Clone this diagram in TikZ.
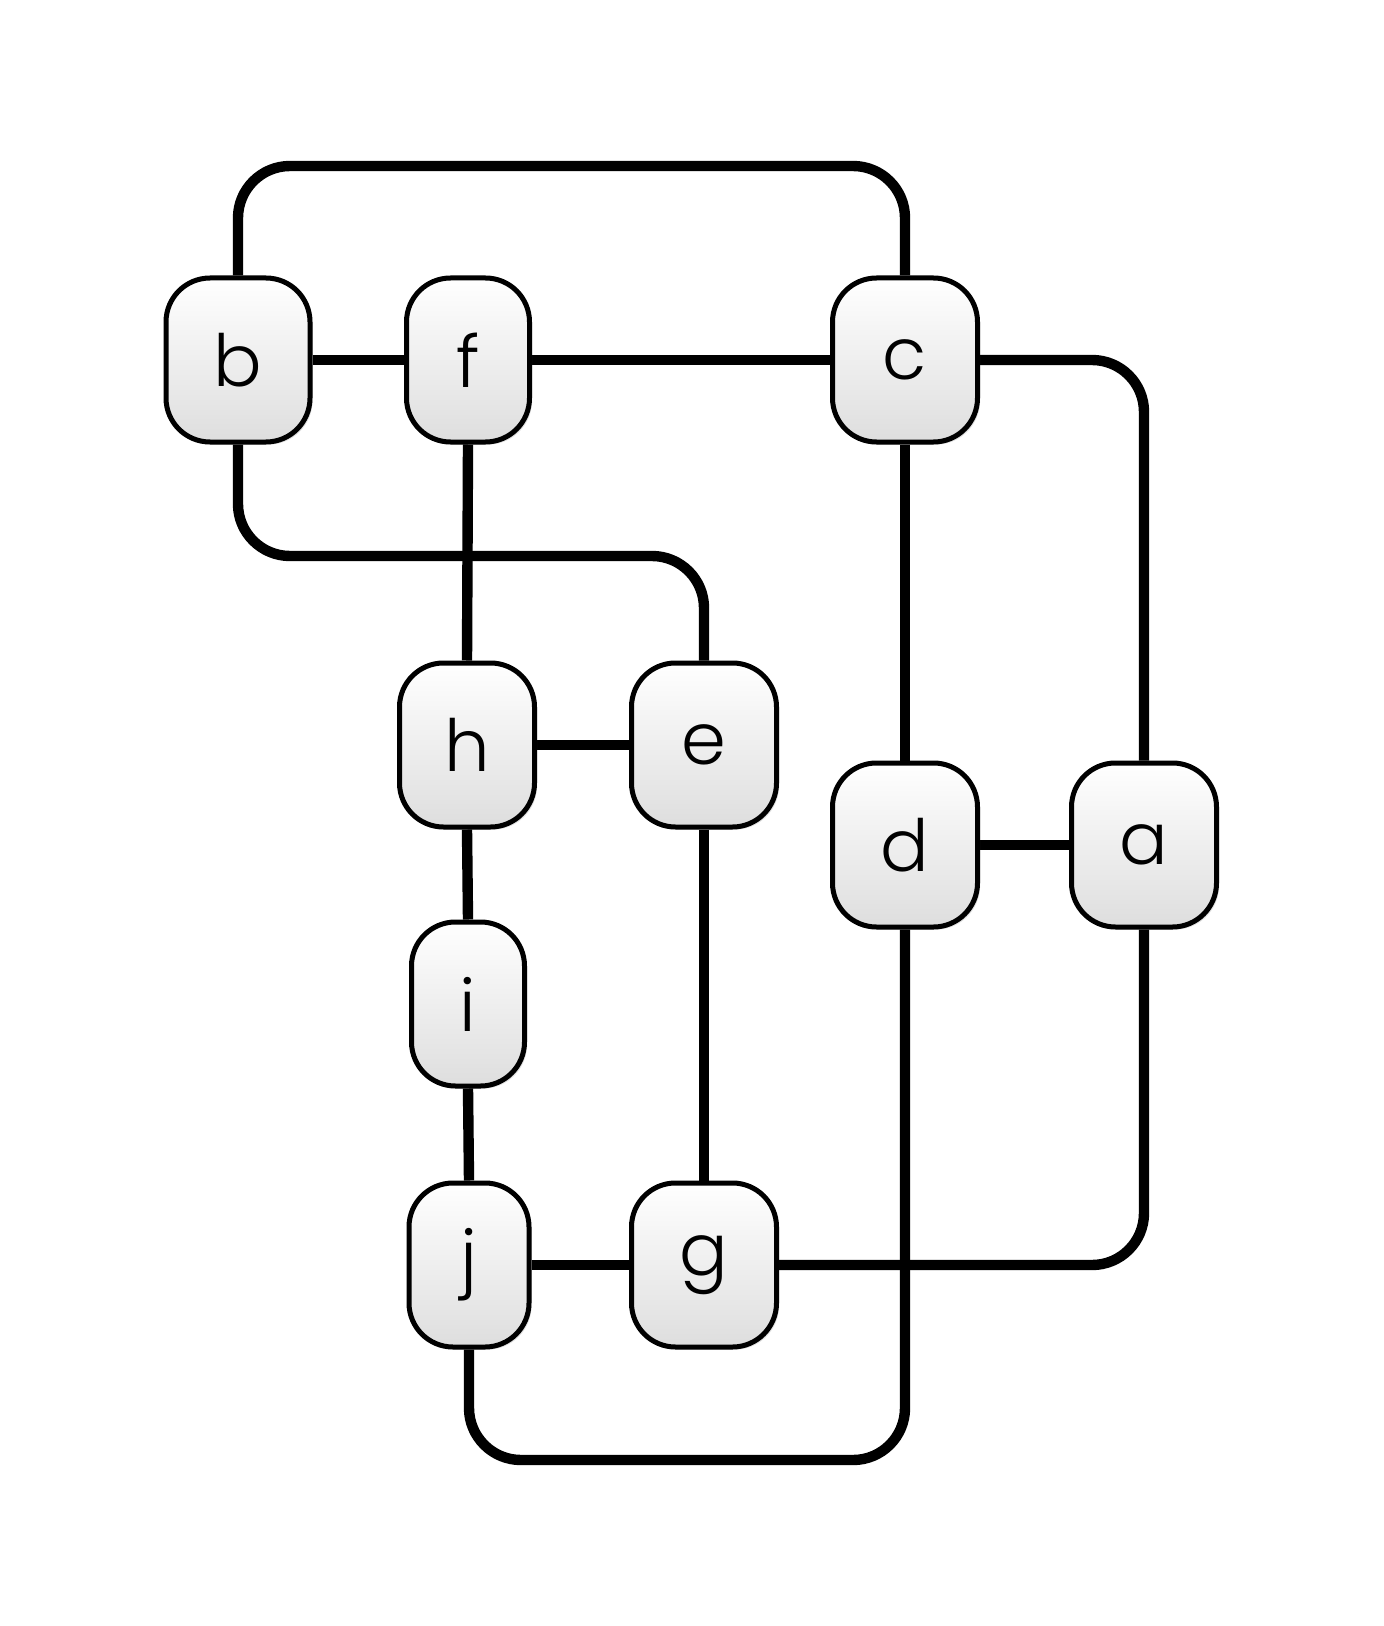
\documentclass[tikz,border=0pt]{standalone}
\usepackage{fontspec}
\setmainfont{Poppins}[UprightFont={* Light}]
\usetikzlibrary{shadows,backgrounds,calc}
\begin{document}
\begin{tikzpicture}[x=0.5pt,y=-0.5pt,
  vbox/.style={draw=black,line width=2.5pt,rounded corners=22pt,
    top color=white,bottom color=black!13,
    drop shadow={shadow xshift=1.3pt,shadow yshift=-1.3pt,opacity=0.25},
    minimum height=82pt,inner sep=0pt,font=\fontsize{36}{40}\selectfont},
  link/.style={line width=5.2pt,rounded corners=26pt}]
\node[vbox,minimum width=72pt] (b) at (238,360) {b};
\node[vbox,minimum width=61.5pt] (f) at (468,360) {f};
\node[vbox,minimum width=72.5pt] (c) at (905,360) {c};
\node[vbox,minimum width=67.5pt] (h) at (467,745) {h};
\node[vbox,minimum width=72.5pt] (e) at (704,745) {e};
\node[vbox,minimum width=72.5pt] (d) at (905,845) {d};
\node[vbox,minimum width=72.5pt] (a) at (1144,845) {a};
\node[vbox,minimum width=56.5pt] (i) at (468,1004) {i};
\node[vbox,minimum width=60pt] (j) at (469,1265) {j};
\node[vbox,minimum width=72.5pt] (g) at (704,1265) {g};
\begin{scope}[on background layer]
\draw[link] (b.east) -- (f.west);
\draw[link] (f.east) -- (c.west);
\draw[link] (b.north) |- (570,166) -| (c.north);
\draw[link] (c.east) -| (a.north);
\draw[link] (b.south) |- (460,556) -| (e.north);
\draw[link] (f.south) -- (h.north);
\draw[link] (h.east) -- (e.west);
\draw[link] (c.south) -- (d.north);
\draw[link] (d.east) -- (a.west);
\draw[link] (h.south) -- (i.north);
\draw[link] (i.south) -- (j.north);
\draw[link] (e.south) -- (g.north);
\draw[link] (j.east) -- (g.west);
\draw[link] (g.east) -| (a.south);
\draw[link] (d.south) |- (680,1460) -| (j.south);
\end{scope}
\pgfresetboundingbox
\path[use as bounding box] (0,0) rectangle (1383,1626);
\end{tikzpicture}
\end{document}
